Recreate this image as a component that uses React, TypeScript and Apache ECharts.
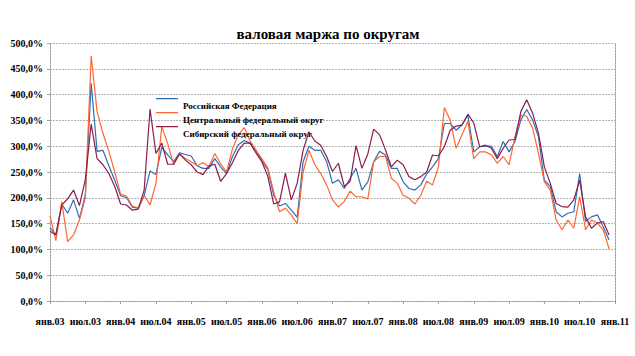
import React, { useEffect, useRef } from "react";
import * as echarts from "echarts";

const title = "валовая маржа по округам";
const seriesNames = [
  "Российская Федерация",
  "Центральный федеральный округ",
  "Сибирский федеральный округ",
];
const monthAbbr = ["янв", "фев", "мар", "апр", "май", "июн", "июл", "авг", "сен", "окт", "ноя", "дек"];
const years = ["03", "04", "05", "06", "07", "08", "09", "10", "11"];

// Jan 2003 .. Jan 2011
const categories: string[] = [];
years.forEach((y, yi) => {
  monthAbbr.forEach((m, mi) => {
    if (yi === years.length - 1 && mi > 0) return;
    categories.push(m + "." + y);
  });
});

const rfValues = [
  142, 128, 188, 170, 196, 160, 205, 422, 290, 292, 262, 234,
  204, 200, 182, 180, 204, 252, 245, 298, 283, 270, 287, 284,
  281, 262, 257, 257, 276, 260, 247, 280, 303, 311, 306, 292,
  271, 255, 205, 184, 189, 176, 162, 270, 300, 292, 292, 270,
  228, 235, 218, 238, 257, 215, 231, 270, 290, 283, 257, 257,
  231, 218, 215, 225, 246, 260, 276, 344, 344, 331, 341, 360,
  289, 299, 300, 300, 280, 309, 289, 309, 351, 371, 351, 318,
  234, 222, 173, 163, 170, 173, 247, 154, 163, 167, 144, 118,
];
const cfoValues = [
  165, 117, 192, 115, 128, 157, 200, 475, 367, 325, 290, 250,
  207, 203, 184, 180, 205, 186, 228, 338, 305, 264, 285, 276,
  270, 262, 268, 260, 286, 266, 250, 295, 322, 336, 310, 292,
  276, 258, 212, 173, 180, 167, 150, 250, 292, 264, 247, 225,
  196, 182, 193, 213, 202, 202, 198, 270, 280, 280, 238, 228,
  205, 199, 188, 205, 232, 225, 260, 375, 351, 296, 322, 348,
  276, 289, 289, 283, 267, 280, 264, 318, 360, 358, 335, 286,
  231, 215, 157, 138, 157, 141, 202, 138, 157, 151, 138, 101,
];
const sfoValues = [
  135, 128, 186, 198, 215, 185, 235, 343, 276, 264, 247, 222,
  188, 186, 176, 178, 215, 372, 286, 306, 265, 265, 285, 273,
  264, 250, 245, 262, 265, 232, 247, 268, 292, 306, 306, 287,
  270, 242, 188, 192, 248, 196, 228, 292, 328, 310, 302, 280,
  251, 267, 222, 232, 301, 257, 285, 333, 322, 293, 260, 273,
  264, 241, 235, 241, 250, 283, 281, 299, 331, 339, 341, 362,
  345, 299, 302, 296, 276, 296, 312, 313, 367, 390, 364, 325,
  260, 228, 189, 183, 182, 196, 234, 163, 141, 151, 154, 128,
];

const colors = ["#2f6fb5", "#ff6633", "#8c1c4b"];
const serif = "'Liberation Serif', 'Times New Roman', serif";
// legend sample: a thin line at the top of the icon box (tiny speck keeps the box height)
const legendIcon = "path://M0,0H24V1.4H0Z M0,18H0.01V18.01H0Z";

export default function App() {
  const ref = useRef<HTMLDivElement>(null);
  useEffect(() => {
    if (!ref.current) return;
    const chart = echarts.init(ref.current, undefined, { renderer: "svg" });
    const values = [rfValues, cfoValues, sfoValues];
    chart.setOption({
      animation: false,
      backgroundColor: "#ffffff",
      title: {
        text: title,
        left: 323,
        textAlign: "center",
        top: 21,
        textStyle: { fontFamily: serif, fontWeight: "bold", fontSize: 15, color: "#000" },
      },
      legend: {
        orient: "vertical",
        left: 156,
        top: 98,
        padding: 0,
        itemWidth: 22,
        itemHeight: 18,
        itemGap: -2.5,
        icon: legendIcon,
        itemStyle: { borderWidth: 0 },
        data: seriesNames,
        textStyle: {
          fontFamily: serif,
          fontWeight: "bold",
          fontSize: 9,
          color: "#000",
        },
      },
      grid: { left: 50, right: 20, top: 43, bottom: 55, containLabel: false },
      xAxis: {
        type: "category",
        boundaryGap: false,
        data: categories,
        axisLine: { lineStyle: { color: "#a0a0a0", type: [2, 1], width: 1 } },
        axisTick: { show: true, interval: 5, length: 3, lineStyle: { color: "#a0a0a0" } },
        axisLabel: {
          interval: 5,
          margin: 15,
          fontFamily: serif,
          fontWeight: "bold",
          fontSize: 10,
          color: "#000",
        },
        splitLine: { show: false },
      },
      yAxis: [
        {
          type: "value",
          min: 0,
          max: 500,
          interval: 50,
          axisLine: { show: true, lineStyle: { color: "#a0a0a0", type: [2, 1], width: 1 } },
          axisTick: { show: true, length: 3, lineStyle: { color: "#a0a0a0" } },
          axisLabel: {
            margin: 7,
            fontFamily: serif,
            fontWeight: "bold",
            fontSize: 10,
            color: "#000",
            padding: [12, 0, 0, 0],
            formatter: (v: number) => v.toFixed(1).replace(".", ",") + "%",
          },
          splitLine: { show: true, lineStyle: { color: "#b4b4b4", type: [2, 1], width: 1 } },
        },
        {
          type: "value",
          position: "right",
          min: 0,
          max: 500,
          interval: 50,
          axisLine: { show: true, lineStyle: { color: "#a0a0a0", type: [2, 1], width: 1 } },
          axisTick: { show: false },
          axisLabel: { show: false },
          splitLine: { show: false },
        },
      ],
      series: seriesNames.map((name, i) => ({
        name,
        type: "line",
        data: values[i],
        yAxisIndex: 0,
        showSymbol: false,
        symbol: "none",
        lineStyle: { color: colors[i], width: 1.2 },
        itemStyle: { color: colors[i] },
        z: 2 + i,
      })),
    });
    return () => chart.dispose();
  }, []);
  return <div ref={ref} style={{ width: 635, height: 356, position: "absolute", left: 0, top: 0 }} />;
}
